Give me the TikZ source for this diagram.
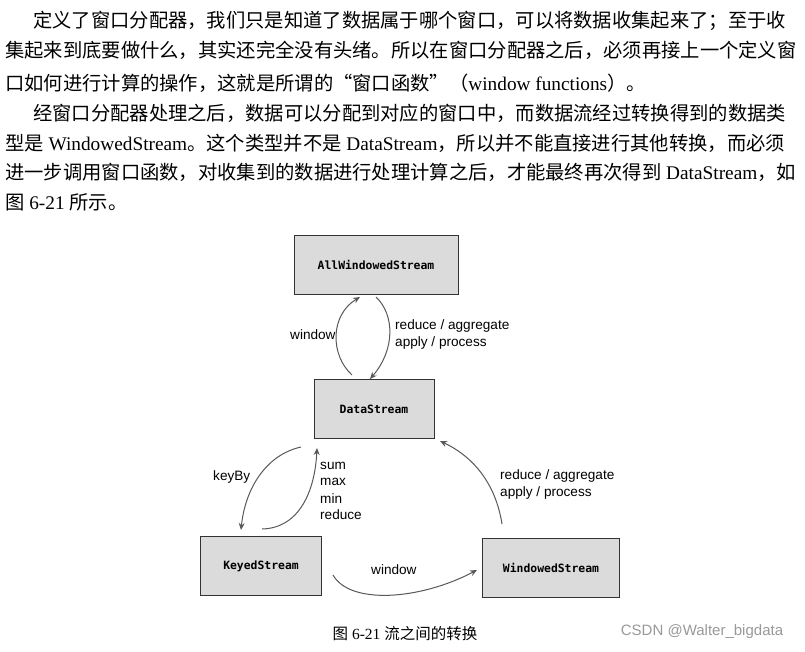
\documentclass[tikz,border=0pt]{standalone}
\usepackage{fontspec}
\setmainfont{Liberation Serif}
\setsansfont{Liberation Sans}
\setmonofont{DejaVu Sans Mono}
\newfontfamily\cjk{Noto Sans CJK SC}
\usetikzlibrary{arrows.meta}
\begin{document}
\begin{tikzpicture}[x=1pt,y=-1pt,
  para/.style={anchor=base west,inner sep=0,font=\fontsize{19.3}{22}\selectfont},
  box/.style={draw=black!80,fill=black!14,line width=0.9pt,minimum width=#1,minimum height=59,font=\ttfamily\bfseries\fontsize{11.4}{13}\selectfont},
  lbl/.style={font=\sffamily\fontsize{13.6}{15}\selectfont,inner sep=0},
  arr/.style={draw=black!65,line width=1pt,-{Stealth[length=7pt,width=6pt]}}]
\useasboundingbox (0,0) rectangle (805,651);
\fill[white] (0,0) rectangle (805,651);
\node[para] (l1) at (33,27) {{\cjk 定义了窗口分配器，我们只是知道了数据属于哪个窗口，可以将数据收集起来了；至于收}};
\node[para] (l2) at (5,57) {{\cjk 集起来到底要做什么，其实还完全没有头绪。所以在窗口分配器之后，必须再接上一个定义窗}};
\node[para] (l3) at (5,90) {{\cjk 口如何进行计算的操作，这就是所谓的“窗口函数”（}window functions{\cjk ）。}};
\node[para] (l4) at (33,120) {{\cjk 经窗口分配器处理之后，数据可以分配到对应的窗口中，而数据流经过转换得到的数据类}};
\node[para] (l5) at (5,150) {{\cjk 型是} WindowedStream{\cjk 。这个类型并不是} DataStream{\cjk ，所以并不能直接进行其他转换，而必须}};
\node[para] (l6) at (5,179) {{\cjk 进一步调用窗口函数，对收集到的数据进行处理计算之后，才能最终再次得到} DataStream{\cjk ，如}};
\node[para] (l7) at (5,209) {{\cjk 图} 6-21 {\cjk 所示。}};

\node[box=164] (aw) at (376,265) {AllWindowedStream};
\node[box=120] (ds) at (374,409) {DataStream};
\node[box=121] (ks) at (261,566) {KeyedStream};
\node[box=137] (ws) at (551,568) {WindowedStream};

\coordinate (a1) at (352,375); \coordinate (a2) at (360,297);
\coordinate (b1) at (376,297); \coordinate (b2) at (370,379);
\coordinate (c1) at (301,447); \coordinate (c2) at (241,530);
\coordinate (d1) at (262,529); \coordinate (d2) at (317,448);
\coordinate (e1) at (333,575); \coordinate (e2) at (477,570);
\coordinate (f1) at (502,524); \coordinate (f2) at (440,441);

\draw[arr] (a1) .. controls (330,355) and (330,315) .. (a2);
\draw[arr] (b1) .. controls (395,315) and (395,350) .. (b2);
\draw[arr] (c1) .. controls (265,455) and (245,490) .. (c2);
\draw[arr] (d1) .. controls (300,528) and (315,490) .. (d2);
\draw[arr] (e1) .. controls (350,605) and (420,600) .. (e2);
\draw[arr] (f1) .. controls (495,480) and (470,455) .. (f2);

\node[lbl,anchor=west] (t1) at (290,335) {window};
\node[lbl,anchor=west] (t2) at (395,326) {reduce / aggregate};
\node[lbl,anchor=west] (t3) at (395,343) {apply / process};
\node[lbl,anchor=west] (t4) at (213,477) {keyBy};
\node[lbl,anchor=west] (t5) at (320,466) {sum};
\node[lbl,anchor=west] (t6) at (320,482) {max};
\node[lbl,anchor=west] (t7) at (320,499) {min};
\node[lbl,anchor=west] (t8) at (320,515) {reduce};
\node[lbl,anchor=west] (t9) at (371,570) {window};
\node[lbl,anchor=west] (t10) at (500,476) {reduce / aggregate};
\node[lbl,anchor=west] (t11) at (500,493) {apply / process};

\node[font=\fontsize{15.5}{17}\selectfont,inner sep=0] (cap) at (405,634) {{\cjk 图} 6-21 {\cjk 流之间的转换}};
\node[font=\sffamily\fontsize{15}{17}\selectfont,text=black!40,inner sep=0] (wm) at (702,632) {CSDN @Walter\_bigdata};
\end{tikzpicture}
\end{document}
